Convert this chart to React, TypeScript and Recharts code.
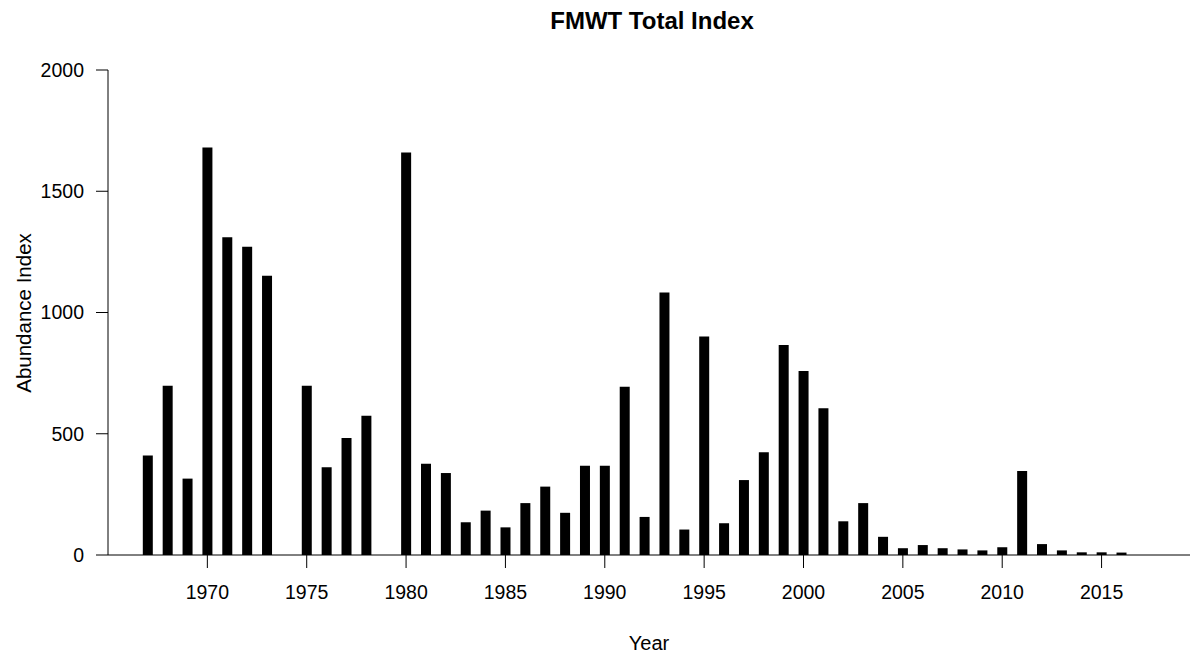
import { BarChart, Bar, XAxis, YAxis } from "recharts";

const years = [
  1967, 1968, 1969, 1970, 1971, 1972, 1973, 1975, 1976, 1977, 1978, 1980, 1981,
  1982, 1983, 1984, 1985, 1986, 1987, 1988, 1989, 1990, 1991, 1992, 1993, 1994,
  1995, 1996, 1997, 1998, 1999, 2000, 2001, 2002, 2003, 2004, 2005, 2006, 2007,
  2008, 2009, 2010, 2011, 2012, 2013, 2014, 2015, 2016,
];

const indexValues = [
  410, 698, 315, 1680, 1310, 1271, 1152, 698, 362, 482, 574, 1660, 376, 338,
  135, 183, 114, 214, 282, 174, 368, 368, 694, 157, 1082, 105, 901, 131, 309,
  424, 866, 759, 605, 139, 214, 75, 28, 41, 28, 23, 19, 32, 346, 45, 19, 11,
  11, 10,
];

const xTicks = [1970, 1975, 1980, 1985, 1990, 1995, 2000, 2005, 2010, 2015];
const yTicks = [0, 500, 1000, 1500, 2000];

const data = years.map((year, i) => ({ year, value: indexValues[i] }));

const font = "'Liberation Sans', Arial, sans-serif";

export default function App() {
  return (
    <div
      style={{
        position: "absolute",
        left: 0,
        top: 0,
        width: 1193,
        height: 656,
        background: "#fff",
        fontFamily: font,
      }}
    >
      <div
        style={{
          position: "absolute",
          top: 7,
          left: 111,
          width: 1082,
          textAlign: "center",
          fontWeight: "bold",
          fontSize: 24,
          color: "#000",
        }}
      >
        FMWT Total Index
      </div>

      <BarChart
        width={1193}
        height={656}
        data={data}
        margin={{ top: 70, right: 3, bottom: 0, left: 0 }}
      >
        <XAxis
          dataKey="year"
          type="number"
          domain={[1965, 2019.45]}
          ticks={xTicks}
          allowDataOverflow
          height={101}
          tickSize={13}
          tickMargin={17}
          stroke="#000"
          tick={{ fill: "#000", fontSize: 19.5, fontFamily: font }}
          label={{
            value: "Year",
            position: "insideBottom",
            offset: 6,
            fill: "#000",
            fontSize: 20,
            fontFamily: font,
          }}
        />
        <YAxis
          domain={[0, 2000]}
          ticks={yTicks}
          width={108}
          tickSize={12}
          tickMargin={12}
          stroke="#000"
          tick={{ fill: "#000", fontSize: 19.5, fontFamily: font }}
          label={{
            content: () => (
              <text
                x={23}
                y={313}
                transform="rotate(-90 23 313)"
                textAnchor="middle"
                dominantBaseline="central"
                fill="#000"
                fontSize={20.5}
                fontFamily={font}
              >
                Abundance Index
              </text>
            ),
          }}
        />
        <Bar
          dataKey="value"
          fill="#000"
          barSize={10}
          isAnimationActive={false}
        />
      </BarChart>
    </div>
  );
}
